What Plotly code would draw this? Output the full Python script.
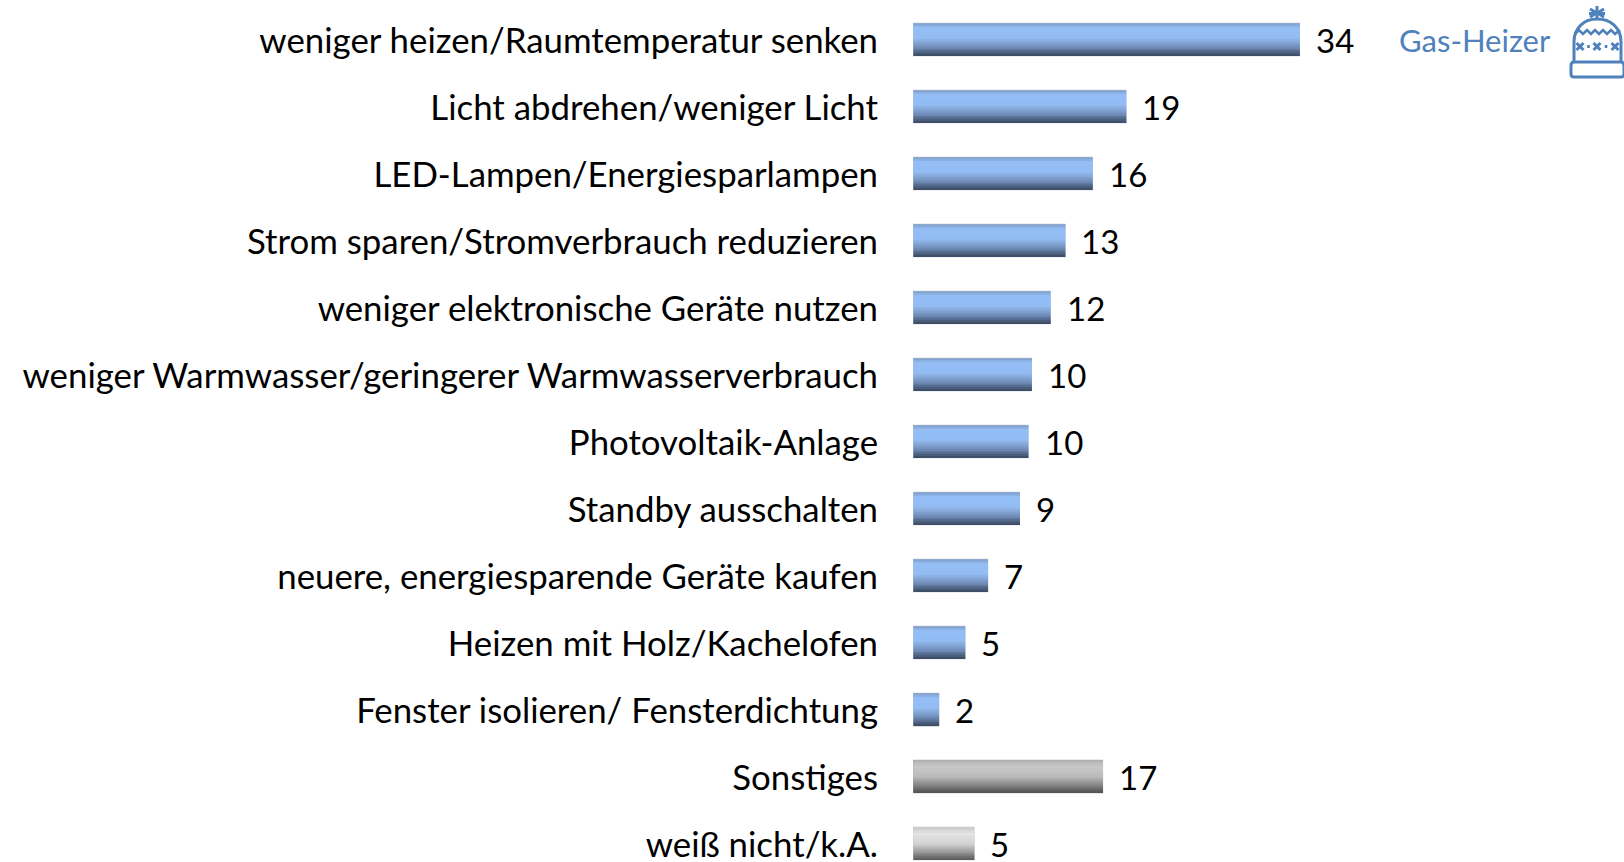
import plotly.graph_objects as go

categories = ["weniger heizen/Raumtemperatur senken", "Licht abdrehen/weniger Licht",
              "LED-Lampen/Energiesparlampen", "Strom sparen/Stromverbrauch reduzieren",
              "weniger elektronische Geräte nutzen", "weniger Warmwasser/geringerer Warmwasserverbrauch",
              "Photovoltaik-Anlage", "Standby ausschalten", "neuere, energiesparende Geräte kaufen",
              "Heizen mit Holz/Kachelofen", "Fenster isolieren/ Fensterdichtung", "Sonstiges", "weiß nicht/k.A."]
bar_lengths = [34, 18.75, 15.8, 13.4, 12.1, 10.45, 10.15, 9.4, 6.6, 4.6, 2.3, 16.7, 5.4]
value_labels = ["34", "19", "16", "13", "12", "10", "10", "9", "7", "5", "2", "17", "5"]
groups = ["blue"] * 11 + ["grey", "light"]
legend_text = "Gas-Heizer"

stops = {
    "blue": [(0, (125, 156, 198)), (.15, (148, 190, 246)), (.45, (146, 188, 244)), (.72, (110, 142, 188)), (1, (58, 72, 95))],
    "grey": [(0, (178, 178, 178)), (.2, (200, 200, 200)), (.5, (188, 188, 188)), (.75, (135, 135, 135)), (1, (78, 78, 78))],
    "light": [(0, (200, 200, 200)), (.2, (228, 228, 228)), (.5, (212, 212, 212)), (.75, (155, 155, 155)), (1, (88, 88, 88))],
}
edge = {"blue": "#BFC4CC", "grey": "#A8A8A8", "light": "#C4C4C4"}
FONT = "Lato"
BLUE = "#4F81BD"
STRIPS = 17
BAR = 0.5
W, H = 1624, 862
LEFT = 913
TOP = 39.5


def shade(group, t):
    s = stops[group]
    for (a, ca), (b, cb) in zip(s, s[1:]):
        if t <= b:
            f = (t - a) / (b - a)
            return "rgb(%d,%d,%d)" % tuple(round(p + (q - p) * f) for p, q in zip(ca, cb))
    return "rgb(%d,%d,%d)" % s[-1][1]


fig = go.Figure()
fig.add_bar(y=categories, x=bar_lengths, orientation="h", width=BAR,
            marker=dict(color=[edge[g] for g in groups], line_width=0), hoverinfo="skip")
h = (BAR - 0.012) / STRIPS
for i in range(STRIPS):
    t = (i + .5) / STRIPS
    fig.add_bar(y=categories, x=[v - 0.03 for v in bar_lengths], base=0.03, orientation="h",
                width=h + 0.004, offset=-BAR / 2 + 0.006 + i * h,
                marker=dict(color=[shade(g, t) for g in groups], line_width=0), hoverinfo="skip")

for c, v, l in zip(categories, bar_lengths, value_labels):
    fig.add_annotation(x=v, y=c, text=l, showarrow=False, xanchor="left", yanchor="middle",
                       xshift=14, font=dict(family=FONT, size=33, color="black"))

fig.add_annotation(xref="paper", yref="paper", x=1553 / W, y=1 - 40 / H,
                   text=legend_text, showarrow=False, xanchor="right", yanchor="middle",
                   font=dict(family=FONT, size=31, color=BLUE))


# hat icon (reference pixel coordinates converted to paper units)
def P(x, y):
    return "%.5f %.5f" % (x / W, 1 - y / H)


def path(points):
    return "M " + " L ".join(P(*p) for p in points)


shapes = []


def add(d, w=3):
    shapes.append(dict(type="path", xref="paper", yref="paper", path=d,
                       line=dict(color=BLUE, width=w), layer="above"))


# brim
add("M %s L %s Q %s %s L %s Q %s %s L %s Q %s %s L %s Q %s %s Z" % (
    P(1574, 62), P(1621, 62), P(1624, 62), P(1624, 66), P(1624, 74), P(1624, 77), P(1621, 77),
    P(1574, 77), P(1571, 77), P(1571, 74), P(1571, 66), P(1571, 62), P(1574, 62)))
# dome
add("M %s L %s C %s %s %s C %s %s %s L %s" % (
    P(1574, 61), P(1574, 42), P(1574, 27), P(1585, 19), P(1597, 19), P(1610, 19), P(1621, 27), P(1621, 42), P(1621, 61)))
# zigzag
add(path([(1575, 34), (1579, 30), (1583, 34), (1587, 30), (1591, 34), (1595, 30), (1599, 34), (1603, 30), (1607, 34), (1611, 30), (1615, 34), (1620, 30)]), 2.6)
# crosses and dots
for cx in (1580, 1597, 1615):
    add(path([(cx - 3.5, 43), (cx + 3.5, 50)]), 3)
    add(path([(cx - 3.5, 50), (cx + 3.5, 43)]), 3)
for cx in (1588.5, 1606):
    add(path([(cx - 1.3, 46.5), (cx + 1.3, 46.5)]), 3)
# pompom
for a, b in [((1597, 6), (1597, 19)), ((1590, 9), (1604, 17)), ((1604, 9), (1590, 17)), ((1589, 13.5), (1605, 13.5))]:
    add(path([a, b]), 3)

fig.update_layout(
    width=W, height=H, margin=dict(l=0, r=0, t=0, b=0), barmode="overlay",
    paper_bgcolor="white", plot_bgcolor="white", showlegend=False, shapes=shapes,
    xaxis=dict(domain=[LEFT / W, 1], range=[0, (W - LEFT) / 11.38], visible=False),
    yaxis=dict(type="category", categoryorder="array", categoryarray=categories,
               range=[(H - TOP) / 67, -TOP / 67], showgrid=False, zeroline=False, showline=False,
               ticks="outside", ticklen=27, tickcolor="rgba(0,0,0,0)", tickwidth=1, ticklabelshift=-1,
               tickfont=dict(family=FONT, size=34.8, color="black"), automargin=False),
)
fig.write_html("out.html", default_width="%dpx" % W, default_height="%dpx" % H,
               config={"displayModeBar": False},
               post_script="document.documentElement.style.overflow='hidden';document.body.style.margin='0';")
